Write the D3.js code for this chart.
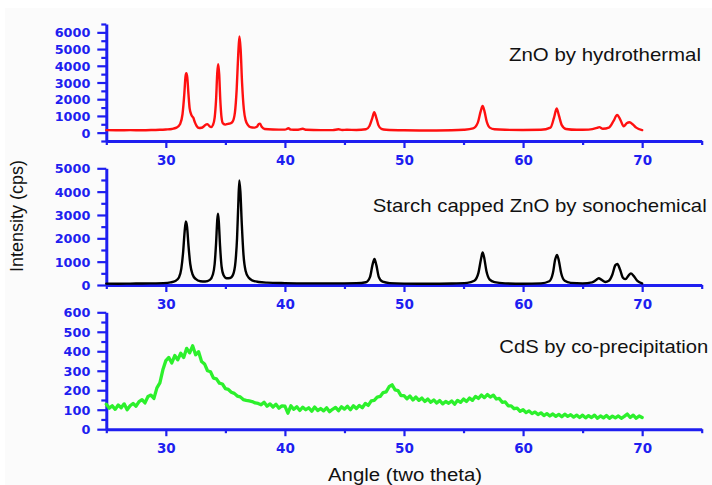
<!DOCTYPE html>
<html>
<head>
<meta charset="utf-8">
<script src="https://cdn.jsdelivr.net/npm/d3@7"></script>
<style>
  html, body { margin: 0; padding: 0; background: #ffffff; }
  svg { display: block; }
</style>
</head>
<body>
<svg id="chart" width="712" height="485"></svg>
<script>
// ---------------- DATA ----------------
const angleMajorTicks = [30, 40, 50, 60, 70];
const angleMinorTicks = [25, 35, 45, 55, 65, 75];

const seriesNames = ["ZnO by hydrothermal", "Starch capped ZnO by sonochemical", "CdS by co-precipitation"];

// ZnO by hydrothermal (red)
const hydroAngle = [25, 26, 27, 28, 29, 29.5, 30, 30.5, 30.9, 31.2, 31.4, 31.55, 31.65, 31.72, 31.8, 31.9, 32.0, 32.15, 32.3, 32.45, 32.6, 32.8, 33.0, 33.2, 33.4, 33.5, 33.65, 33.8, 33.95, 34.1, 34.22, 34.32, 34.4, 34.48, 34.57, 34.68, 34.8, 35.0, 35.2, 35.4, 35.6, 35.8, 35.95, 36.08, 36.18, 36.28, 36.4, 36.55, 36.7, 36.9, 37.1, 37.4, 37.65, 37.8, 37.9, 38.05, 38.3, 39, 40, 40.3, 40.5, 41, 41.5, 41.8, 43, 44, 44.5, 44.8, 45.2, 46, 46.8, 47.1, 47.35, 47.5, 47.65, 47.85, 48.1, 48.5, 50, 52, 54, 55, 55.8, 56.2, 56.45, 56.6, 56.75, 56.95, 57.2, 57.6, 58.5, 60, 61.5, 62.3, 62.6, 62.82, 63.0, 63.25, 63.6, 64.5, 65.5, 66.2, 66.4, 66.7, 67.2, 67.6, 67.9, 68.15, 68.45, 68.7, 68.95, 69.2, 69.5, 70];
const hydroIntensity = [150, 140, 150, 145, 160, 170, 190, 220, 300, 520, 1100, 2300, 3350, 3550, 3300, 2300, 1450, 1050, 900, 600, 380, 280, 290, 380, 500, 510, 400, 330, 450, 900, 2000, 3600, 4100, 3500, 2000, 900, 550, 480, 520, 550, 650, 1200, 2600, 4700, 5750, 5000, 3000, 1400, 750, 450, 330, 300, 350, 520, 540, 350, 220, 190, 180, 260, 180, 170, 230, 170, 150, 150, 200, 160, 170, 160, 200, 400, 900, 1230, 950, 450, 230, 170, 140, 130, 140, 170, 250, 600, 1300, 1590, 1300, 650, 300, 200, 170, 160, 170, 300, 900, 1440, 1050, 450, 220, 170, 180, 280, 330, 230, 300, 700, 1060, 800, 380, 560, 620, 500, 300, 150];

// Starch capped ZnO by sonochemical (black)
const starchAngle = [25, 26, 27, 28, 29, 29.8, 30.4, 30.8, 31.1, 31.3, 31.45, 31.58, 31.68, 31.78, 31.9, 32.05, 32.25, 32.5, 32.9, 33.3, 33.7, 33.95, 34.1, 34.22, 34.32, 34.38, 34.45, 34.55, 34.68, 34.85, 35.1, 35.4, 35.65, 35.85, 35.98, 36.08, 36.17, 36.26, 36.38, 36.52, 36.7, 36.95, 37.3, 37.8, 38.5, 40, 42, 44, 46, 46.8, 47.15, 47.35, 47.52, 47.68, 47.88, 48.2, 48.8, 50, 52, 54, 55.3, 55.9, 56.25, 56.48, 56.6, 56.72, 56.92, 57.2, 57.6, 58.5, 60, 61.5, 62.2, 62.5, 62.7, 62.85, 63.0, 63.2, 63.5, 64, 65, 65.8, 66.1, 66.35, 66.6, 66.9, 67.2, 67.5, 67.75, 67.92, 68.15, 68.4, 68.6, 68.85, 69.05, 69.3, 69.6, 70];
const starchIntensity = [60, 55, 60, 65, 70, 80, 110, 170, 320, 700, 1400, 2300, 2720, 2500, 1700, 900, 450, 260, 160, 150, 220, 450, 900, 1800, 2800, 3050, 2700, 1700, 800, 420, 290, 300, 450, 1000, 2000, 3400, 4480, 4000, 2600, 1300, 600, 320, 190, 130, 100, 80, 70, 70, 80, 120, 350, 850, 1120, 850, 350, 140, 80, 60, 55, 65, 90, 180, 520, 1150, 1390, 1200, 600, 230, 120, 70, 55, 70, 160, 500, 1100, 1290, 1050, 500, 180, 90, 70, 110, 200, 290, 220, 130, 180, 450, 850, 900, 650, 300, 250, 400, 500, 380, 180, 70];

// CdS by co-precipitation (green), sampled every 0.25 degree from 25 to 70
const cdsAngle = d3.range(0, 181).map(i => 25 + i * 0.25);
const cdsIntensity = [
  128, 108, 120, 102, 124, 110, 130, 100, 120, 132, 118, 142, 152, 135, 168, 175, 158, 212, 238, 305,
  352, 368, 340, 378, 356, 390, 368, 415, 392, 428, 382, 398, 348, 335, 300, 295, 262, 258, 236, 232,
  208, 204, 190, 184, 170, 166, 152, 148, 145, 142, 135, 132, 125, 138, 118, 130, 114, 128, 108, 120,
  118, 82, 120, 102, 115, 96, 113, 100, 110, 92, 114, 96, 106, 94, 110, 90, 102, 112, 95, 115,
  103, 118, 100, 120, 106, 122, 110, 132, 122, 145, 148, 165, 168, 188, 192, 218, 228, 202, 198, 172,
  172, 156, 170, 150, 165, 148, 160, 142, 155, 138, 150, 134, 147, 130, 142, 133, 145, 128, 148, 138,
  155, 142, 160, 148, 168, 158, 175, 162, 178, 165, 175, 155, 158, 138, 140, 120, 120, 105, 108, 92,
  100, 85, 94, 80, 88, 75, 84, 70, 80, 68, 78, 66, 76, 64, 77, 66, 74, 62, 72, 60,
  72, 58, 70, 60, 72, 56, 68, 58, 70, 56, 67, 58, 68, 56, 66, 78, 60, 72, 56, 68,
  60
];

// Y tick labels per panel
const hydroYTicks = [0, 1000, 2000, 3000, 4000, 5000, 6000];
const starchYTicks = [0, 1000, 2000, 3000, 4000, 5000];
const cdsYTicks = [0, 100, 200, 300, 400, 500, 600];

const xTitle = "Angle (two theta)";
const yTitle = "Intensity (cps)";

// ---------------- DRAW ----------------
const svg = d3.select("#chart");
const AXIS_BLUE = "#1e1ef0";

svg.append("rect").attr("x", 5).attr("y", 8).attr("width", 707).attr("height", 477).attr("fill", "#fbfbfb");

const x = d3.scaleLinear().domain([25, 75]).range([106.3, 701.7]);

const panels = [
  { angle: hydroAngle, value: hydroIntensity, color: "#ff1010", width: 2.4,
    y: d3.scaleLinear().domain([-500, 6500]).range([141, 24]),
    major: hydroYTicks, minor: d3.range(-500, 6501, 1000), axisAt: -500,
    name: seriesNames[0], lx: 509, ly: 61, lw: 192, curve: d3.curveMonotoneX },
  { angle: starchAngle, value: starchIntensity, color: "#000000", width: 2.4,
    y: d3.scaleLinear().domain([0, 5000]).range([285, 168.3]),
    major: starchYTicks, minor: d3.range(500, 5000, 1000), axisAt: 0,
    name: seriesNames[1], lx: 372.7, ly: 211.7, lw: 334, curve: d3.curveMonotoneX },
  { angle: cdsAngle, value: cdsIntensity, color: "#2cf02c", width: 3.3,
    y: d3.scaleLinear().domain([0, 600]).range([429.2, 312.3]),
    major: cdsYTicks, minor: d3.range(50, 600, 100), axisAt: 0,
    name: seriesNames[2], lx: 499.3, ly: 352.7, lw: 209, curve: d3.curveLinear }
];

function styleAxis(g) {
  g.select(".domain").attr("stroke", AXIS_BLUE).attr("stroke-width", 3);
  g.selectAll(".tick line").attr("stroke", AXIS_BLUE).attr("stroke-width", 2.2);
  g.selectAll(".tick text").attr("fill", AXIS_BLUE)
    .attr("font-family", "DejaVu Sans, sans-serif").attr("font-weight", "bold");
}

panels.forEach(p => {
  const yPos = p.y(p.axisAt);
  // x axis major
  const gx = svg.append("g").attr("transform", `translate(0,${yPos})`)
    .call(d3.axisBottom(x).tickValues(angleMajorTicks).tickSize(7).tickSizeOuter(0).tickFormat(d3.format("d")));
  styleAxis(gx);
  gx.selectAll(".tick text").attr("font-size", 13.5).attr("dy", null).attr("y", 24);
  // x axis minor
  const gxm = svg.append("g").attr("transform", `translate(0,${yPos})`)
    .call(d3.axisBottom(x).tickValues(angleMinorTicks).tickSize(4).tickSizeOuter(0).tickFormat(""));
  styleAxis(gxm);
  gxm.select(".domain").remove();

  // y axis major
  const gy = svg.append("g").attr("transform", `translate(${x(25)},0)`)
    .call(d3.axisLeft(p.y).tickValues(p.major).tickSize(9).tickPadding(7).tickSizeOuter(0).tickFormat(d3.format("d")));
  styleAxis(gy);
  gy.selectAll(".tick text").attr("font-size", 12.8).attr("dy", "0.36em");
  const gym = svg.append("g").attr("transform", `translate(${x(25)},0)`)
    .call(d3.axisLeft(p.y).tickValues(p.minor).tickSize(5).tickSizeOuter(0).tickFormat(""));
  styleAxis(gym);
  gym.select(".domain").remove();

  // data line
  const pts = p.angle.map((a, i) => [a, p.value[i]]);
  svg.append("path").datum(pts)
    .attr("fill", "none").attr("stroke", p.color).attr("stroke-width", p.width)
    .attr("stroke-linejoin", "round").attr("stroke-linecap", "round")
    .attr("d", d3.line().x(d => x(d[0])).y(d => p.y(d[1])).curve(p.curve));

  // series label
  svg.append("text").attr("x", p.lx).attr("y", p.ly)
    .attr("font-family", "Liberation Sans, Arial, sans-serif").attr("font-size", 18.5)
    .attr("fill", "#111").attr("textLength", p.lw).attr("lengthAdjust", "spacingAndGlyphs")
    .text(p.name);
});

// axis titles
svg.append("text").attr("transform", "translate(23,216) rotate(-90)")
  .attr("text-anchor", "middle").attr("font-family", "Liberation Sans, Arial, sans-serif")
  .attr("font-size", 18).attr("fill", "#111").text(yTitle);

svg.append("text").attr("x", 328).attr("y", 481)
  .attr("font-family", "Liberation Sans, Arial, sans-serif").attr("font-size", 18)
  .attr("fill", "#111").attr("textLength", 154).attr("lengthAdjust", "spacingAndGlyphs")
  .text(xTitle);
</script>
</body>
</html>
